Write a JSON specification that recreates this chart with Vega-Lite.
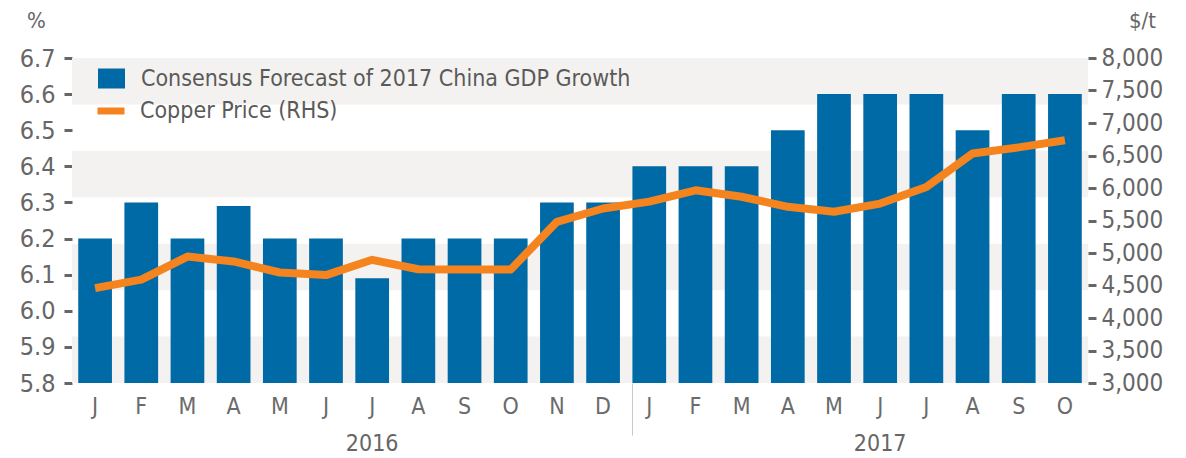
{
  "$schema": "https://vega.github.io/schema/vega-lite/v6.json",
  "autosize": {"type": "none"},
  "width": 1016,
  "height": 325,
  "padding": {"left": 72, "top": 58, "right": 98, "bottom": 75},
  "background": "white",
  "config": {
    "view": {"stroke": null},
    "font": "DejaVu Sans Condensed, sans-serif",
    "axis": {"domain": false, "grid": false, "labelFont": "DejaVu Sans Condensed, sans-serif", "labelFontSize": 24, "labelColor": "#666666", "labelOverlap": false, "titleFont": "DejaVu Sans Condensed, sans-serif", "titleFontSize": 22, "titleColor": "#666666", "titleFontWeight": "normal"},
    "legend": {"labelFont": "DejaVu Sans Condensed, sans-serif", "labelFontSize": 23, "labelColor": "#5a5a5a", "padding": 0, "labelLimit": 800}
  },
  "datasets": {
    "main": [
      {"m": "2016-01", "gdp": 6.2, "copper": 4460},
      {"m": "2016-02", "gdp": 6.3, "copper": 4590},
      {"m": "2016-03", "gdp": 6.2, "copper": 4945},
      {"m": "2016-04", "gdp": 6.29, "copper": 4870},
      {"m": "2016-05", "gdp": 6.2, "copper": 4700},
      {"m": "2016-06", "gdp": 6.2, "copper": 4660},
      {"m": "2016-07", "gdp": 6.09, "copper": 4895},
      {"m": "2016-08", "gdp": 6.2, "copper": 4750},
      {"m": "2016-09", "gdp": 6.2, "copper": 4745},
      {"m": "2016-10", "gdp": 6.2, "copper": 4745},
      {"m": "2016-11", "gdp": 6.3, "copper": 5480},
      {"m": "2016-12", "gdp": 6.3, "copper": 5685},
      {"m": "2017-01", "gdp": 6.4, "copper": 5790},
      {"m": "2017-02", "gdp": 6.4, "copper": 5965},
      {"m": "2017-03", "gdp": 6.4, "copper": 5865},
      {"m": "2017-04", "gdp": 6.5, "copper": 5710},
      {"m": "2017-05", "gdp": 6.6, "copper": 5635},
      {"m": "2017-06", "gdp": 6.6, "copper": 5760},
      {"m": "2017-07", "gdp": 6.6, "copper": 6015},
      {"m": "2017-08", "gdp": 6.5, "copper": 6530},
      {"m": "2017-09", "gdp": 6.6, "copper": 6625},
      {"m": "2017-10", "gdp": 6.6, "copper": 6735}
    ],
    "bands": [
      {"lo": 5.8, "hi": 5.9286},
      {"lo": 6.0571, "hi": 6.1857},
      {"lo": 6.3143, "hi": 6.4429},
      {"lo": 6.5714, "hi": 6.7}
    ]
  },
  "layer": [
    {
      "layer": [
        {
          "data": {"name": "bands"},
          "mark": {"type": "rect", "color": "#f3f2f0"},
          "encoding": {
            "y": {"field": "lo", "type": "quantitative", "scale": {"domain": [5.8, 6.7], "zero": false, "nice": false},
              "axis": {"title": "%", "titleAngle": 0, "titleX": -36, "titleY": -38, "titleAlign": "center", "titleBaseline": "middle",
                "values": [5.8, 5.9, 6.0, 6.1, 6.2, 6.3, 6.4, 6.5, 6.6, 6.7], "format": ".1f", "labelFontSize": 25,
                "tickSize": 8, "tickWidth": 3, "tickColor": "#666666", "labelPadding": 9}},
            "y2": {"field": "hi"}
          }
        },
        {
          "data": {"name": "main"},
          "mark": {"type": "bar"},
          "encoding": {
            "x": {"field": "m", "type": "nominal", "sort": "ascending", "scale": {"paddingInner": 0.27, "paddingOuter": 0.135},
              "axis": {"title": null, "ticks": false, "labelPadding": 12, "labelAngle": 0, "labelColor": "#6b6b6b", "labelFontSize": 23,
                "labelExpr": "['J','F','M','A','M','J','J','A','S','O','N','D'][toNumber(slice(datum.value,5))-1]"}},
            "y": {"field": "gdp", "type": "quantitative", "scale": {"domain": [5.8, 6.7], "zero": false, "nice": false},
              "axis": {"title": "%", "titleAngle": 0, "titleX": -36, "titleY": -38, "titleAlign": "center", "titleBaseline": "middle",
                "values": [5.8, 5.9, 6.0, 6.1, 6.2, 6.3, 6.4, 6.5, 6.6, 6.7], "format": ".1f", "labelFontSize": 25,
                "tickSize": 8, "tickWidth": 3, "tickColor": "#666666", "labelPadding": 9}},
            "y2": {"datum": 5.8},
            "fill": {"datum": "Consensus Forecast of 2017 China GDP Growth", "type": "nominal", "scale": {"range": ["#006aa6"]},
              "legend": {"title": null, "orient": "none", "legendX": 28, "legendY": 9, "symbolType": "M-1.35,-1H1.35V1H-1.35Z", "symbolSize": 400, "symbolOpacity": 1, "labelOffset": 18}}
          }
        }
      ]
    },
    {
      "data": {"name": "main"},
      "mark": {"type": "line", "strokeWidth": 8, "strokeJoin": "round", "strokeCap": "butt"},
      "encoding": {
        "x": {"field": "m", "type": "nominal", "sort": "ascending", "scale": {"paddingInner": 0.27, "paddingOuter": 0.135},
          "axis": {"orient": "bottom", "title": null, "labels": true, "values": ["2016-07", "2017-01", "2017-06"], "bandPosition": 0,
            "labelExpr": "datum.value == '2017-01' ? '' : slice(datum.value, 0, 4)", "labelAngle": 0, "labelAlign": "center", "labelFontSize": 23,
            "tickSize": 52, "tickWidth": 1, "tickColor": "#c8c8c8",
            "tickOpacity": {"condition": {"test": "datum.value == '2017-01'", "value": 1}, "value": 0},
            "labelPadding": -3, "labelColor": "#666666"}},
        "y": {"field": "copper", "type": "quantitative", "scale": {"domain": [3000, 8000], "zero": false, "nice": false},
          "axis": {"orient": "right", "title": "$/t", "titleAngle": 0, "titleX": 54, "titleY": -38, "titleAlign": "center", "titleBaseline": "middle",
            "values": [3000, 3500, 4000, 4500, 5000, 5500, 6000, 6500, 7000, 7500, 8000], "format": ",d",
            "tickSize": 8, "tickWidth": 3, "tickColor": "#666666", "labelPadding": 5}},
        "stroke": {"datum": "Copper Price (RHS)", "type": "nominal", "scale": {"range": ["#f5841f"]},
          "legend": {"title": null, "orient": "none", "legendX": 22, "legendY": 36, "symbolType": "stroke", "symbolSize": 729, "symbolStrokeWidth": 7, "labelOffset": 12}}
      }
    }
  ],
  "resolve": {"scale": {"y": "independent"}, "axis": {"x": "independent", "y": "independent"}, "legend": {"fill": "independent", "stroke": "independent"}}
}
